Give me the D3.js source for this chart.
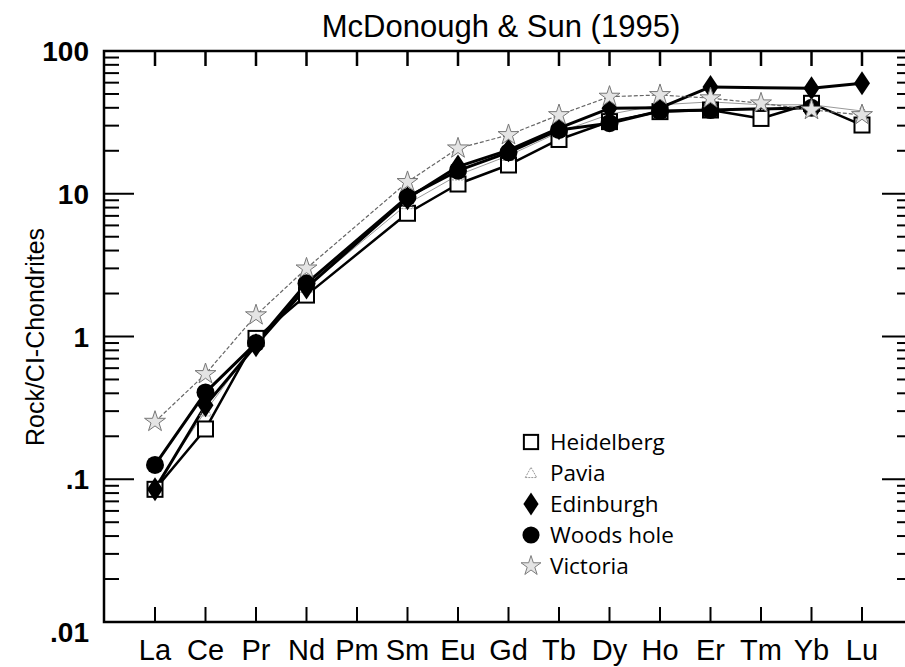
<!DOCTYPE html>
<html>
<head>
<meta charset="utf-8">
<script src="https://cdn.jsdelivr.net/npm/d3@7"></script>
<style>
  html, body { margin: 0; padding: 0; background: #fff; overflow: hidden; }
  svg { display: block; }
</style>
</head>
<body>
<svg id="chart" width="905" height="667"></svg>
<script>
// ---------- data ----------
const elements = ["La","Ce","Pr","Nd","Pm","Sm","Eu","Gd","Tb","Dy","Ho","Er","Tm","Yb","Lu"];
const heidelberg = [0.085, 0.225, 0.97, 1.95, null, 7.3, 11.7, 15.9, 24.0, 32.0, 37.6, 38.6, 33.7, 43.0, 30.3];
const pavia      = [0.09, 0.30, 0.90, 2.2, null, 8.5, 13.5, 18.5, 27.0, 36.0, 42.0, 44.0, 42.0, 42.0, 38.0];
const edinburgh  = [0.085, 0.33, 0.87, 2.2, null, 9.3, 15.5, 20.2, 28.8, 39.7, 40.0, 56.0, null, 54.8, 59.4];
const woodsHole  = [0.126, 0.406, 0.90, 2.36, null, 9.5, 14.5, 19.5, 28.0, 31.2, 38.0, 38.6, null, 40.0, null];
const victoria   = [0.253, 0.546, 1.41, 3.0, null, 12.1, 20.8, 25.8, 35.6, 47.9, 49.2, 46.7, 43.0, 38.7, 35.6];
const seriesNames = ["Heidelberg","Pavia","Edinburgh","Woods hole","Victoria"];
const yMajorTicks = [0.01, 0.1, 1, 10, 100];
const yTickLabels = [".01", ".1", "1", "10", "100"];
const titleText = "McDonough & Sun (1995)";
const yAxisTitle = "Rock/CI-Chondrites";

// ---------- layout ----------
const svg = d3.select("#chart");
const frame = {left: 104, top: 51, right: 912, bottom: 622};
const x = d3.scalePoint().domain(elements).range([155, 862]);
const y = d3.scaleLog().domain([0.01, 100]).range([frame.bottom, frame.top]);
const FONT = "'Liberation Sans', Arial, Helvetica, sans-serif";

// frame
svg.append("rect")
  .attr("x", frame.left).attr("y", frame.top)
  .attr("width", frame.right - frame.left).attr("height", frame.bottom - frame.top)
  .attr("fill", "none").attr("stroke", "#000").attr("stroke-width", 2.5);

// y ticks (left and right, inward)
const allY = y.ticks();
const gy = svg.append("g");
allY.forEach(v => {
  const major = yMajorTicks.some(m => Math.abs(m - v) / m < 1e-6);
  const len = major ? 30 : 15;
  gy.append("line").attr("x1", frame.left).attr("x2", frame.left + len)
    .attr("y1", y(v)).attr("y2", y(v)).attr("stroke", "#000").attr("stroke-width", 2);
  gy.append("line").attr("x1", frame.right).attr("x2", frame.right - len)
    .attr("y1", y(v)).attr("y2", y(v)).attr("stroke", "#000").attr("stroke-width", 2);
});
yMajorTicks.forEach((v, i) => {
  svg.append("text")
    .attr("x", 89).attr("y", y(v) + (i === 0 ? 10 : 0))
    .attr("dy", "0.36em")
    .attr("text-anchor", "end")
    .attr("font-family", FONT).attr("font-size", 28).attr("font-weight", "bold")
    .text(yTickLabels[i]);
});

// x ticks (bottom and top, inward)
const gx = svg.append("g");
elements.forEach(e => {
  gx.append("line").attr("x1", x(e)).attr("x2", x(e))
    .attr("y1", frame.bottom).attr("y2", frame.bottom - 15).attr("stroke", "#000").attr("stroke-width", 2);
  gx.append("line").attr("x1", x(e)).attr("x2", x(e))
    .attr("y1", frame.top).attr("y2", frame.top + 15).attr("stroke", "#000").attr("stroke-width", 2.5);
  gx.append("text").attr("x", x(e)).attr("y", 660)
    .attr("text-anchor", "middle")
    .attr("font-family", FONT).attr("font-size", 29)
    .text(e);
});

// titles
svg.append("text").attr("x", 501).attr("y", 37)
  .attr("text-anchor", "middle").attr("font-family", FONT).attr("font-size", 31)
  .text(titleText);
svg.append("text")
  .attr("transform", "translate(44,337) rotate(-90)")
  .attr("text-anchor", "middle").attr("font-family", FONT).attr("font-size", 25)
  .text(yAxisTitle);

// ---------- series ----------
const starSym = d3.symbol().type(d3.symbolStar).size(136);
const series = [
  {name: seriesNames[0], values: heidelberg, stroke: "#000", width: 2.5, dash: null, marker: "square"},
  {name: seriesNames[1], values: pavia, stroke: "#999", width: 1, dash: null, marker: "triangle"},
  {name: seriesNames[2], values: edinburgh, stroke: "#000", width: 3, dash: null, marker: "diamond"},
  {name: seriesNames[3], values: woodsHole, stroke: "#000", width: 3, dash: null, marker: "circle"},
  {name: seriesNames[4], values: victoria, stroke: "#666", width: 1.2, dash: "4,2", marker: "star"}
];

function drawMarker(g, type, cx, cy, scale) {
  scale = scale || 1;
  if (type === "square") {
    const s = 15 * scale;
    g.append("rect").attr("x", cx - s/2).attr("y", cy - s/2).attr("width", s).attr("height", s)
      .attr("fill", "#fff").attr("stroke", "#000").attr("stroke-width", 2);
  } else if (type === "diamond") {
    const w = 8 * scale, h = 12 * scale;
    g.append("path").attr("d", `M${cx},${cy-h}L${cx+w},${cy}L${cx},${cy+h}L${cx-w},${cy}Z`)
      .attr("fill", "#000");
  } else if (type === "circle") {
    g.append("circle").attr("cx", cx).attr("cy", cy).attr("r", 9 * scale).attr("fill", "#000");
  } else if (type === "star") {
    g.append("path").attr("d", starSym()).attr("transform", `translate(${cx},${cy}) scale(${scale})`)
      .attr("fill", "#e4e4e4").attr("stroke", "#777").attr("stroke-width", 1);
  } else if (type === "triangle") {
    const s = 6 * scale;
    g.append("path").attr("d", `M${cx-s},${cy+s*0.8}L${cx+s},${cy+s*0.8}L${cx},${cy-s}Z`)
      .attr("fill", "none").attr("stroke", "#999").attr("stroke-width", 1).attr("stroke-dasharray", "2,1");
  }
}

const line = d3.line().x(d => x(d.e)).y(d => y(d.v));
series.forEach(s => {
  const pts = elements.map((e, i) => ({e, v: s.values[i]})).filter(d => d.v != null);
  svg.append("path").datum(pts).attr("d", line)
    .attr("fill", "none").attr("stroke", s.stroke).attr("stroke-width", s.width)
    .attr("stroke-linejoin", "round")
    .attr("stroke-dasharray", s.dash);
});
series.forEach(s => {
  const g = svg.append("g");
  elements.forEach((e, i) => {
    const v = s.values[i];
    if (v != null) drawMarker(g, s.marker, x(e), y(v));
  });
});

// ---------- legend ----------
const legend = svg.append("g");
const legendY0 = 442, legendStep = 31;
series.forEach((s, i) => {
  const cy = legendY0 + i * legendStep;
  drawMarker(legend, s.marker, 531, cy, 0.95);
  legend.append("text").attr("x", 550).attr("y", cy).attr("dy", "0.36em")
    .attr("font-family", "'Open Sans', 'Noto Sans', sans-serif").attr("font-size", 22.5)
    .text(s.name);
});
</script>
</body>
</html>
